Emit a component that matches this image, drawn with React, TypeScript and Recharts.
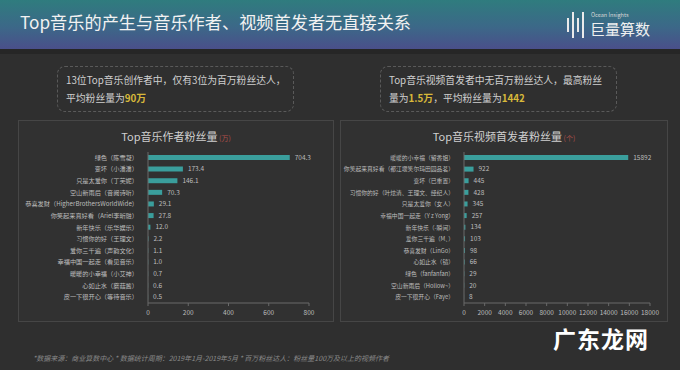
import React from "react"
import { BarChart, Bar, XAxis, YAxis, LabelList } from "recharts"

const font = '"Noto Sans CJK SC", "Noto Sans", sans-serif'

// left chart: Top音乐作者粉丝量 (万)
const authorNames = [
  "绿色（陈雪凝）",
  "变坏（小潘潘）",
  "只是太爱你（丁芙妮）",
  "空山新雨后（音阙诗听）",
  "恭喜发财（HigherBrothersWorldWide）",
  "你笑起来真好看（Ariel李昕融）",
  "新年快乐（乐华娱乐）",
  "习惯你的好（王理文）",
  "爱你三千遍（声韵文化）",
  "幸福中国一起走（看见音乐）",
  "暖暖的小幸福（小艾神）",
  "心如止水（蘑菇酱）",
  "皮一下很开心（等待音乐）",
]
const authorFans = [704.3, 173.4, 146.1, 70.3, 29.1, 27.8, 12.0, 2.2, 1.1, 1.0, 0.7, 0.6, 0.5]
const authorTicks = [0, 200, 400, 600, 800]

// right chart: Top音乐视频首发者粉丝量 (个)
const videoNames = [
  "暖暖的小幸福（留香姐）",
  "你笑起来真好看（都江堰笑尔玛田园品茗）",
  "变坏（已重置）",
  "习惯你的好（叶炫清、王理文、经纪人）",
  "只是太爱你（女人）",
  "幸福中国一起走（Y z Yong）",
  "新年快乐（-瞬间）",
  "爱你三千遍（M、）",
  "恭喜发财（LinGo）",
  "心如止水（镜）",
  "绿色（fanfanfan）",
  "空山新雨后（Hollow~）",
  "皮一下很开心（Faye）",
]
const videoFans = [15892, 922, 445, 428, 345, 257, 134, 103, 98, 66, 29, 20, 8]
const videoTicks = [0, 2000, 4000, 6000, 8000, 10000, 12000, 14000, 16000, 18000]

const authorData = authorNames.map((name, i) => ({ name, value: authorFans[i] }))
const videoData = videoNames.map((name, i) => ({ name, value: videoFans[i] }))

const barColor = "#3a9e9c"
const axisColor = "#6a6a6a"
const tickStyle = { fill: "#bdbdbd", fontSize: 6.5, fontFamily: font }

function NameTick(props: any) {
  const { x, y, payload, size } = props
  return (
    <text x={x} y={y} dy={2} textAnchor="end" fill="#bdbdbd" fontSize={size} fontFamily={font}>
      {payload.value}
    </text>
  )
}

function Panel({
  left, width, title, unit, data, ticks, max, yWidth, right, fmt, nameSize,
}: {
  left: number; width: number; title: string; unit: string
  data: { name: string; value: number }[]; ticks: number[]; max: number
  yWidth: number; right: number; fmt: (v: number) => string; nameSize: number
}) {
  return (
    <div style={{
      position: "absolute", left, top: 120, width, height: 202,
      border: "1px solid #464646", background: "#313131", boxSizing: "border-box",
    }}>
      <div style={{
        position: "absolute", top: 7, width: "100%", textAlign: "center",
        color: "#cfcfcf", fontSize: 11, fontFamily: font,
      }}>
        {title}<span style={{ color: "#b0504a", fontSize: 7 }}> ({unit})</span>
      </div>
      <BarChart
        width={width - 2}
        height={200}
        data={data}
        layout="vertical"
        margin={{ top: 31, right, bottom: 0, left: 0 }}
        barCategoryGap={3}
      >
        <XAxis
          type="number"
          domain={[0, max]}
          ticks={ticks}
          interval={0}
          height={18}
          stroke={axisColor}
          tickSize={3}
          tick={tickStyle}
          tickMargin={4}
        />
        <YAxis
          type="category"
          dataKey="name"
          width={yWidth}
          stroke={axisColor}
          tickLine={false}
          interval={0}
          tick={<NameTick size={nameSize} />}
          tickMargin={4}
        />
        <Bar dataKey="value" fill={barColor} barSize={5} isAnimationActive={false}>
          <LabelList
            dataKey="value"
            position="right"
            offset={5}
            formatter={(v: any) => fmt(Number(v))}
            style={{ fill: "#bdbdbd", fontSize: 6.5, fontFamily: font }}
          />
        </Bar>
      </BarChart>
    </div>
  )
}

export default function App() {
  const hi = { color: "#d8b93a", fontWeight: 700 }
  const note = {
    position: "absolute" as const, top: 66, height: 46, boxSizing: "border-box" as const,
    border: "1px dashed #5a5a5a", borderRadius: 8, color: "#d0d0d0", fontSize: 9.8,
    fontFamily: font, padding: "4px 8px", lineHeight: "18px", whiteSpace: "nowrap" as const,
  }
  return (
    <div style={{
      position: "fixed", left: 0, top: 0, width: 680, height: 370,
      background: "#2f2f2f", overflow: "hidden", fontFamily: font,
    }}>
      <div style={{
        position: "absolute", left: 0, top: 0, width: 680, height: 49,
        background: "linear-gradient(180deg, #2f7c7e 0%, #3c6888 55%, #4a4f8a 100%)",
      }} />
      <div style={{ position: "absolute", left: 0, top: 49, width: 680, height: 5, background: "#262626" }} />
      <div style={{
        position: "absolute", left: 20, top: 9, color: "#f2f2f2", fontSize: 17.2,
      }}>
        Top音乐的产生与音乐作者、视频首发者无直接关系
      </div>
      {/* logo */}
      <div style={{ position: "absolute", left: 567, top: 12, width: 18, height: 26 }}>
        {[0, 5, 10, 15].map((x, i) => (
          <div key={i} style={{
            position: "absolute", left: x, top: i % 2 ? 0 : 6, width: 2,
            height: i % 2 ? 26 : 14, background: "#eaeaea",
          }} />
        ))}
      </div>
      <div style={{ position: "absolute", left: 591, top: 11, color: "#d8d8d8", fontSize: 5.5 }}>
        Ocean Insights
      </div>
      <div style={{ position: "absolute", left: 590, top: 18, color: "#f0f0f0", fontSize: 15 }}>
        巨量算数
      </div>

      <div style={{ ...note, left: 57, width: 237 }}>
        13位Top音乐创作者中，仅有3位为百万粉丝达人，<br />
        平均粉丝量为<span style={hi}>90万</span>
      </div>
      <div style={{ ...note, left: 380, width: 237 }}>
        Top音乐视频首发者中无百万粉丝达人，最高粉丝<br />
        量为<span style={hi}>1.5万</span>，平均粉丝量为<span style={hi}>1442</span>
      </div>

      <Panel
        left={18} width={316} title="Top音乐作者粉丝量" unit="万"
        data={authorData} ticks={authorTicks} max={800}
        yWidth={129} right={24} fmt={(v) => v.toFixed(1)} nameSize={6.2}
      />
      <Panel
        left={340} width={328} title="Top音乐视频首发者粉丝量" unit="个"
        data={videoData} ticks={videoTicks} max={18000}
        yWidth={123} right={17} fmt={(v) => String(v)} nameSize={5.8}
      />

      <div style={{
        position: "absolute", left: 553, top: 321, color: "#ffffff", fontSize: 23,
        fontWeight: 700, letterSpacing: 1,
      }}>
        广东龙网
      </div>
      <div style={{
        position: "absolute", left: 33, top: 353, color: "#8a8a8a", fontSize: 7, fontStyle: "italic",
      }}>
        *数据来源：商业算数中心 * 数据统计周期：2019年1月-2019年5月 * 百万粉丝达人：粉丝量100万及以上的视频作者
      </div>
    </div>
  )
}
